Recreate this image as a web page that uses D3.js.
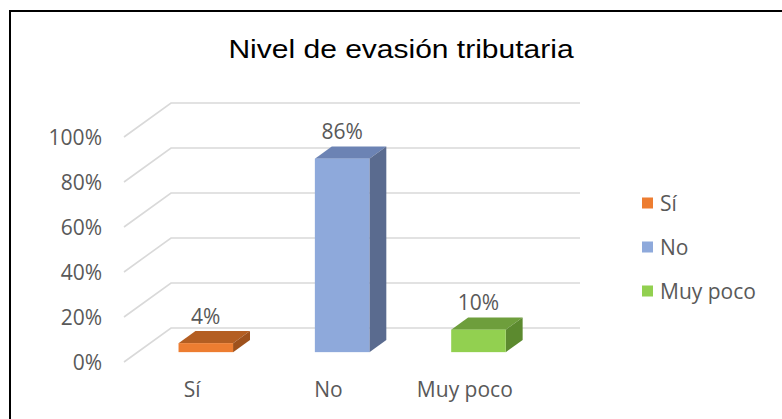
<!DOCTYPE html>
<html>
<head>
<meta charset="utf-8">
<title>Nivel de evasión tributaria</title>
<style>
    body { margin: 0; background: #fff; }
    svg { display: block; }
    .lbl { font-family: "Open Sans", sans-serif; font-size: 21px; fill: #595959; }
    .grid path { fill: none; stroke: #d9d9d9; stroke-width: 1.6; }
</style>
</head>
<body>
<script src="https://d3js.org/d3.v7.min.js"></script>
<script>
    // data
    var categories = ["Sí", "No", "Muy poco"];
    var values = [0.04, 0.86, 0.10];
    var valueLabels = ["4%", "86%", "10%"];
    var ticks = [0, 0.2, 0.4, 0.6, 0.8, 1];
    var frontColors = ["#ED7D31", "#8EA9DB", "#92D050"];
    var topColors = ["#B45E22", "#6C83B4", "#6E9E3C"];
    var sideColors = ["#9E511C", "#5A6B8F", "#5C8A2F"];

    var W = 782, H = 419;

    // front plane of the 3d box, plus the oblique depth offset
    var x = d3.scaleBand().domain(categories).range([124, 533])
        .paddingInner(0.6).paddingOuter(0.3);
    var y = d3.scaleLinear().domain([0, 1]).range([362, 137]);
    var depthX = 47, depthY = -34;
    var f1 = 0.29, f2 = 0.65; // bar front / back within the depth

    var svg = d3.select("body").append("svg")
        .attr("width", W).attr("height", H);

    // chart frame
    svg.append("rect")
        .attr("x", 10).attr("y", 11)
        .attr("width", W + 20).attr("height", H + 20)
        .attr("fill", "#fff").attr("stroke", "#000").attr("stroke-width", 2);

    // title (reference is stretched a bit horizontally)
    svg.append("text")
        .attr("transform", "translate(401,58) scale(1.2,1)")
        .attr("text-anchor", "middle")
        .style("font-family", "'Liberation Sans', Arial, sans-serif")
        .style("font-size", "25px")
        .style("fill", "#000")
        .text("Nivel de evasión tributaria");

    // gridlines: floor-side diagonal + back wall
    var x0 = x.range()[0], x1 = x.range()[1];
    svg.append("g").attr("class", "grid")
        .selectAll("path")
        .data(ticks)
        .enter().append("path")
        .attr("d", function(t) {
            return "M" + x0 + "," + y(t) +
                "L" + (x0 + depthX) + "," + (y(t) + depthY) +
                "L" + (x1 + depthX) + "," + (y(t) + depthY);
        });

    // y tick labels
    svg.append("g")
        .selectAll("text")
        .data(ticks)
        .enter().append("text")
        .attr("class", "lbl")
        .attr("x", 102)
        .attr("y", function(t) { return y(t); })
        .attr("dy", "0.36em")
        .attr("text-anchor", "end")
        .text(d3.format(".0%"));

    // bars
    var bw = x.bandwidth();
    var bars = svg.append("g")
        .selectAll("g")
        .data(categories)
        .enter().append("g");

    function pt(px, py) { return px + "," + py; }

    bars.each(function(c, i) {
        var g = d3.select(this);
        var bx = x(c), top = y(values[i]), bot = y(0);
        var ax1 = depthX * f1, ay1 = depthY * f1;
        var ax2 = depthX * f2, ay2 = depthY * f2;
        // top face
        g.append("polygon")
            .attr("points", [
                pt(bx + ax1, top + ay1), pt(bx + bw + ax1, top + ay1),
                pt(bx + bw + ax2, top + ay2), pt(bx + ax2, top + ay2)
            ].join(" "))
            .attr("fill", topColors[i]);
        // side face
        g.append("polygon")
            .attr("points", [
                pt(bx + bw + ax1, top + ay1), pt(bx + bw + ax2, top + ay2),
                pt(bx + bw + ax2, bot + ay2), pt(bx + bw + ax1, bot + ay1)
            ].join(" "))
            .attr("fill", sideColors[i]);
        // front face
        g.append("rect")
            .attr("x", bx + ax1).attr("y", top + ay1)
            .attr("width", bw).attr("height", bot - top)
            .attr("fill", frontColors[i]);
        // value label
        g.append("text")
            .attr("class", "lbl")
            .attr("x", bx + ax1 + bw / 2)
            .attr("y", top + ay2 - 7)
            .attr("text-anchor", "middle")
            .text(valueLabels[i]);
    });

    // category labels on the front edge
    svg.append("g")
        .selectAll("text")
        .data(categories)
        .enter().append("text")
        .attr("class", "lbl")
        .attr("x", function(c) { return x(c) + bw / 2; })
        .attr("y", 397)
        .attr("text-anchor", "middle")
        .text(function(c) { return c; });

    // legend
    var legY = d3.scalePoint().domain(categories).range([203, 291]);
    var leg = svg.append("g")
        .selectAll("g")
        .data(categories)
        .enter().append("g")
        .attr("transform", function(c) { return "translate(642," + legY(c) + ")"; });
    leg.append("rect")
        .attr("x", 0).attr("y", -5.5)
        .attr("width", 11).attr("height", 11)
        .attr("fill", function(c, i) { return frontColors[i]; });
    leg.append("text")
        .attr("class", "lbl")
        .attr("x", 18)
        .attr("dy", "0.36em")
        .text(function(c) { return c; });
</script>
</body>
</html>
